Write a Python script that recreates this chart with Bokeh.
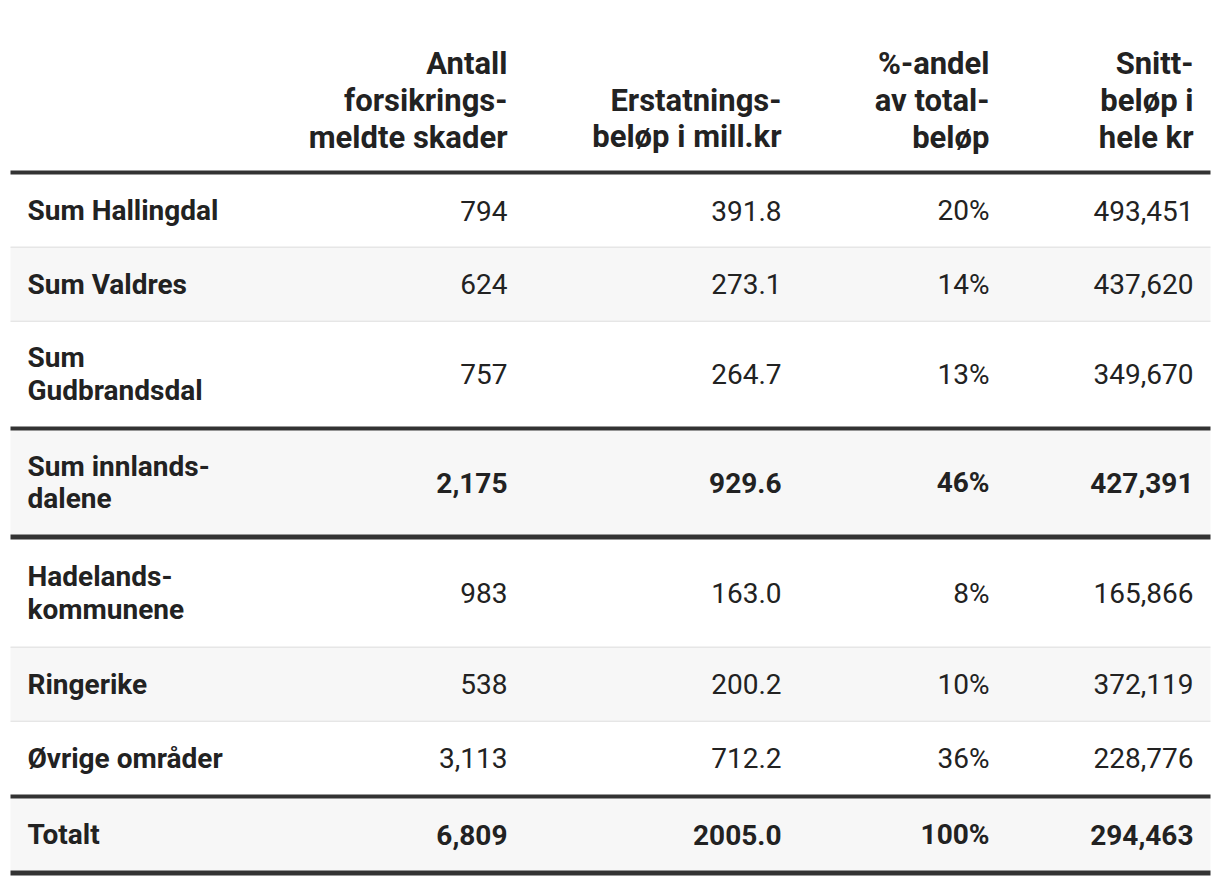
from bokeh.plotting import figure
from bokeh.models import ColumnDataSource, Range1d
from bokeh.core.properties import value
from bokeh.embed import file_html
from bokeh.resources import INLINE

# ---- data ----
regions = ["Sum Hallingdal", "Sum Valdres", "Sum\nGudbrandsdal", "Sum innlands-\ndalene",
           "Hadelands-\nkommunene", "Ringerike", "Øvrige områder", "Totalt"]
antall = [794, 624, 757, 2175, 983, 538, 3113, 6809]
erstatning = [391.8, 273.1, 264.7, 929.6, 163.0, 200.2, 712.2, 2005.0]
andel = [20, 14, 13, 46, 8, 10, 36, 100]
snitt = [493451, 437620, 349670, 427391, 165866, 372119, 228776, 294463]
headers = ["Antall\nforsikrings-\nmeldte skader", "Erstatnings-\nbeløp i mill.kr",
           "%-andel\nav total-\nbeløp", "Snitt-\nbeløp i\nhele kr"]
summary_rows = [3, 7]

# ---- layout (page pixels) ----
X0, X1 = 10, 1210
LABEL_X = 27
COL_RIGHT = [507, 781, 989, 1193]
row_top = [174, 247, 321, 430, 539, 647, 721, 798]
row_bottom = [246, 320, 426, 534, 646, 720, 794, 870]
thin_after = [0, 1, 4, 5]
thick_bands = [(170, 174), (426, 430), (534, 539), (794, 798), (870, 875)]
FONT = value("Roboto")
FS = "28px"
HFS = "31px"
TXT = "#222222"

W, H = 1212, 878
p = figure(width=W, height=H, output_backend="svg", toolbar_location=None,
           x_range=Range1d(0, W), y_range=Range1d(H, 0), min_border=0)
p.axis.visible = False
p.grid.visible = False
p.outline_line_color = None
p.background_fill_color = "white"
p.border_fill_color = "white"

# zebra backgrounds
gray_idx = [i for i in range(len(regions)) if i % 2 == 1]
p.quad(left=[X0] * len(gray_idx), right=[X1] * len(gray_idx),
       top=[row_top[i] for i in gray_idx], bottom=[row_bottom[i] for i in gray_idx],
       fill_color="#f7f7f7", line_color=None)
# thin separators
p.quad(left=[X0] * len(thin_after), right=[X1] * len(thin_after),
       top=[row_bottom[i] for i in thin_after], bottom=[row_bottom[i] + 1.5 for i in thin_after],
       fill_color="#e6e6e6", line_color=None)
# thick rules
p.quad(left=[X0] * len(thick_bands), right=[X1] * len(thick_bands),
       top=[a for a, b in thick_bands], bottom=[b for a, b in thick_bands],
       fill_color="#333333", line_color=None)

ycen = [(a + b) / 2 for a, b in zip(row_top, row_bottom)]

# header
n_lines = [h.count("\n") + 1 for h in headers]
hdr_bottom = 154
hy = [hdr_bottom - n * 36 / 2 for n in n_lines]
p.text(x=COL_RIGHT, y=hy, text=headers, text_align="right", text_baseline="middle",
       text_font=FONT, text_font_size=HFS, text_font_style="bold",
       text_color=TXT, text_line_height=0.99)

# labels
p.text(x=[LABEL_X] * len(regions), y=ycen, text=regions, text_align="left",
       text_baseline="middle", text_font=FONT, text_font_size=FS,
       text_font_style="bold", text_color=TXT, text_line_height=0.98)

cols = [
    [f"{v:,}" for v in antall],
    [f"{v:.1f}" for v in erstatning],
    [f"{v}%" for v in andel],
    [f"{v:,}" for v in snitt],
]
styles = ["bold" if i in summary_rows else "normal" for i in range(len(regions))]
for cx, texts in zip(COL_RIGHT, cols):
    src = ColumnDataSource(dict(x=[cx] * len(texts), y=ycen, t=texts, s=styles))
    p.text(x="x", y="y", text="t", source=src, text_align="right",
           text_baseline="middle", text_font=FONT, text_font_size=FS,
           text_font_style="s", text_color=TXT)

open("out.html", "w").write(file_html(p, INLINE))
